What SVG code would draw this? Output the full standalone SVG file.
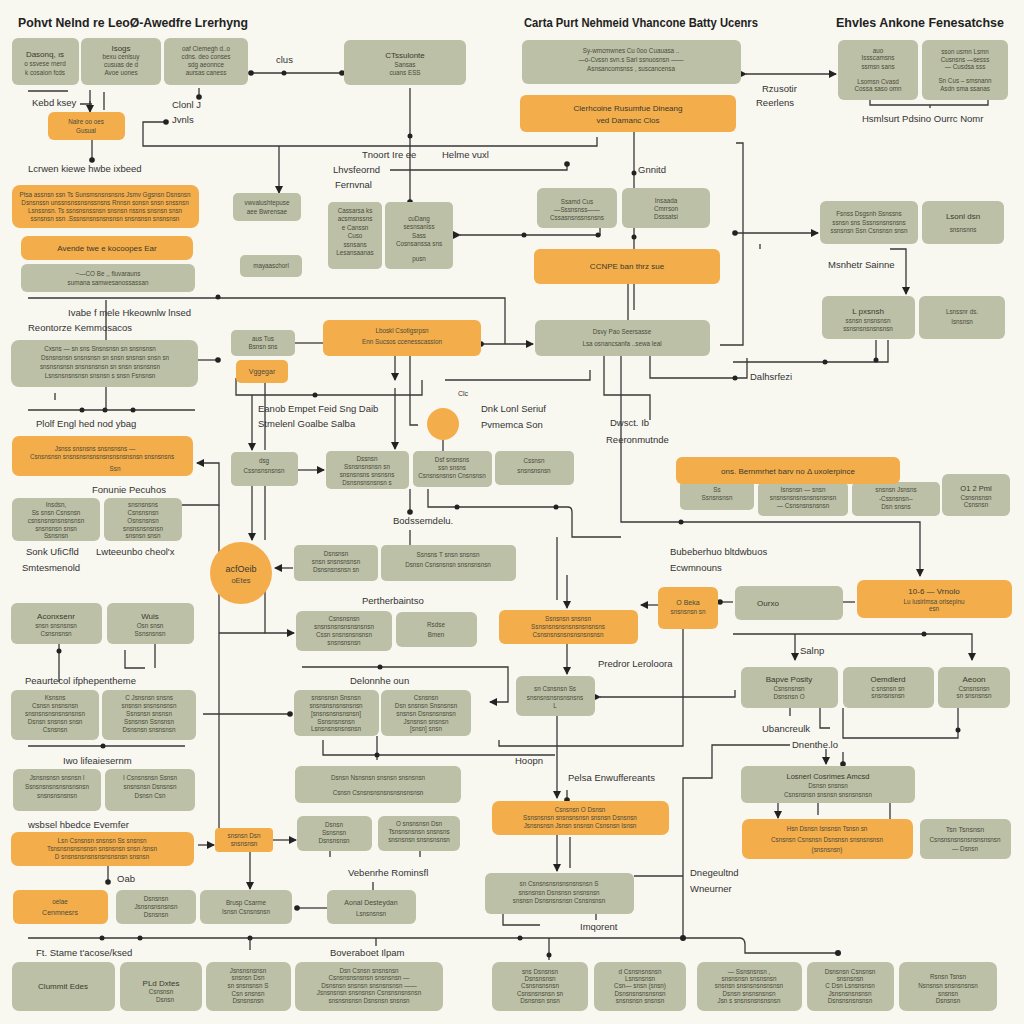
<svg xmlns="http://www.w3.org/2000/svg" width="1024" height="1024" viewBox="0 0 1024 1024">
<style>
.s{fill:#bcc0a6}
.o{fill:#f4ad4b}
text{font-family:"Liberation Sans",Arial,sans-serif}
.t{font-size:6.3px;fill:#4b4b3c;text-anchor:middle}
.tb{font-size:8px;fill:#3a3a2e;text-anchor:middle}
.l{font-size:9.5px;fill:#333}
.h{font-size:12.5px;font-weight:bold;fill:#222}
.c{stroke:#383838;stroke-width:1.3;fill:none}
.d{fill:#222}
</style>
<defs>
<marker id="a" viewBox="0 0 8 8" refX="7" refY="4" markerWidth="8" markerHeight="8" markerUnits="userSpaceOnUse" orient="auto"><path d="M0,0 L8,4 L0,8 z" fill="#222"/></marker>
<marker id="p" viewBox="0 0 6 6" refX="3" refY="3" markerWidth="6" markerHeight="6" markerUnits="userSpaceOnUse"><circle cx="3" cy="3" r="2.8" fill="#222"/></marker>
</defs>
<rect width="1024" height="1024" fill="#f8f7f0"/>

<g id="titles">
<text class="h" x="18" y="27" textLength="230" lengthAdjust="spacingAndGlyphs">Pohvt Nelnd re LeoØ-Awedfre Lrerhyng</text>
<text class="h" x="524" y="27" textLength="234" lengthAdjust="spacingAndGlyphs">Carta Purt Nehmeid Vhancone Batty Ucenrs</text>
<text class="h" x="836" y="27" textLength="168" lengthAdjust="spacingAndGlyphs">Ehvles Ankone Fenesatchse</text>
</g>

<g id="connectors">
<path class="c" d="M251,73 H342" marker-start="url(#p)" marker-end="url(#p)"/>
<circle class="d" cx="284" cy="73" r="2.5"/>
<path class="c" d="M28,91 H68 M80,104 H92 M90,90 V110 M104,92 V110" />
<path class="c" d="M90,101 V112" marker-end="url(#a)"/>
<path class="c" d="M92,140 V160" marker-end="url(#p)"/>
<path class="c" d="M199,88 V97" marker-end="url(#p)"/>
<path class="c" d="M166,122 H143 V146 H597 V137" marker-start="url(#p)"/>
<path class="c" d="M279,146 V193" marker-end="url(#a)"/>
<path class="c" d="M410,88 V202" marker-end="url(#p)"/>
<circle class="d" cx="410" cy="136" r="2.5"/>
<path class="c" d="M390,170 H567 V164" marker-end="url(#p)"/>
<path class="c" d="M460,235 H600 V228" marker-start="url(#a)"/>
<circle class="d" cx="524" cy="235" r="2.5"/><circle class="d" cx="598" cy="235" r="2.5"/>
<path class="c" d="M634,132 V249"/>
<circle class="d" cx="634" cy="173" r="2.5"/><circle class="d" cx="634" cy="237" r="2.5"/>
<path class="c" d="M746,74 H836" marker-start="url(#a)" marker-end="url(#a)"/>
<path class="c" d="M870,100 V105 H988 V100 M930,105 V108"/>
<path class="c" d="M736,143 H743 V345 H720"/>
<path class="c" d="M735,233 H818" marker-start="url(#p)" marker-end="url(#a)"/>
<path class="c" d="M733,362 H888 V340 M876,340 V358"/>
<circle class="d" cx="825" cy="362" r="2.5"/><circle class="d" cx="876" cy="360" r="2.5"/>
<path class="c" d="M650,356 V378 H747 V358"/>
<circle class="d" cx="735" cy="378" r="2.5"/>
<path class="c" d="M890,249 H906 V294" marker-end="url(#a)"/>
<path class="c" d="M28,298 H505 V344"/>
<circle class="d" cx="218" cy="297" r="2.5"/>
<path class="c" d="M106,300 V340"/>
<path class="c" d="M198,360 H218" marker-end="url(#p)"/>
<path class="c" d="M481,344 H533" marker-start="url(#p)" marker-end="url(#a)"/>
<path class="c" d="M295,343 H323"/>
<path class="c" d="M236,378 V395 H422 V380 M445,380 H590 V370"/>
<circle class="d" cx="315" cy="395" r="2.5"/>
<path class="c" d="M252,395 V450" marker-end="url(#a)"/>
<path class="c" d="M265,383 V450"/>
<path class="c" d="M395,356 V380" marker-end="url(#a)"/>
<path class="c" d="M395,388 V449" marker-end="url(#a)"/>
<path class="c" d="M410,356 V425 H418"/>
<path class="c" d="M604,356 V395 H650 V420"/>
<path class="c" d="M621,356 V522 H920 V576" marker-end="url(#a)"/>
<circle class="d" cx="681" cy="522" r="2.5"/>
<path class="c" d="M28,410 H195"/>
<circle class="d" cx="82" cy="410" r="2.5"/><circle class="d" cx="105" cy="410" r="2.5"/><circle class="d" cx="133" cy="410" r="2.5"/>
<path class="c" d="M106,387 V410 M55,393 V400"/>
<path class="c" d="M182,505 H219 V463 H197" marker-end="url(#a)"/>
<path class="c" d="M219,505 V828"/>
<path class="c" d="M298,470 H324" marker-end="url(#a)"/>
<path class="c" d="M443,440 V451"/>
<path class="c" d="M252,486 V540" marker-end="url(#a)"/>
<path class="c" d="M265,486 V540"/>
<path class="c" d="M293,568 H275" marker-end="url(#a)"/>
<path class="c" d="M428,489 V507 H568 Q572,507 572,512 V537 H621"/>
<circle class="d" cx="457" cy="507" r="2.5"/><circle class="d" cx="556" cy="507" r="2.5"/>
<path class="c" d="M410,489 V512" marker-end="url(#p)"/>
<path class="c" d="M410,530 V545"/>
<path class="c" d="M557,537 V600"/>
<path class="c" d="M265,590 V633 H294" marker-end="url(#a)"/>
<path class="c" d="M219,633 H265"/>
<path class="c" d="M59,644 V682 M155,644 V668 M125,650 V668 H145" />
<circle class="d" cx="59" cy="651" r="2.5"/>
<path class="c" d="M28,746 H185"/>
<circle class="d" cx="103" cy="746" r="2.5"/>
<path class="c" d="M203,714 H290" marker-end="url(#p)"/>
<path class="c" d="M302,667 H508 V702 H490" marker-end="url(#a)"/>
<circle class="d" cx="380" cy="667" r="2.5"/>
<path class="c" d="M567,575 V608" marker-end="url(#a)"/>
<path class="c" d="M567,644 V674" marker-end="url(#a)"/>
<path class="c" d="M658,605 H641" marker-end="url(#a)"/>
<path class="c" d="M733,602 H720" marker-end="url(#p)"/>
<path class="c" d="M843,602 H855"/>
<path class="c" d="M733,634 H972 V660" marker-end="url(#a)"/>
<path class="c" d="M795,634 V660" marker-end="url(#a)"/>
<circle class="d" cx="924" cy="634" r="2.5"/>
<path class="c" d="M499,740 V746 H683 V618"/>
<path class="c" d="M600,697 H735 V690" marker-start="url(#a)"/>
<path class="c" d="M790,745 H712 V778 H683 V938"/>
<path class="c" d="M634,876 H683"/>
<path class="c" d="M557,716 V798" marker-end="url(#a)"/>
<path class="c" d="M567,790 V800" marker-end="url(#p)"/>
<path class="c" d="M323,740 V755 H555 M377,736 V760"/>
<circle class="d" cx="377" cy="755" r="2.5"/>
<path class="c" d="M557,835 V871" marker-end="url(#a)"/>
<path class="c" d="M570,837 V868"/>
<path class="c" d="M503,914 V925 H540 M596,914 V920"/>
<path class="c" d="M28,938 H740 Q745,938 745,945 V953 H838"/>
<circle class="d" cx="102" cy="938" r="2.5"/><circle class="d" cx="140" cy="938" r="2.5"/><circle class="d" cx="250" cy="938" r="2.5"/><circle class="d" cx="520" cy="938" r="2.5"/><circle class="d" cx="683" cy="938" r="3"/><circle class="d" cx="838" cy="953" r="3"/>
<path class="c" d="M250,938 V950 M549,938 V960 M376,938 V946"/>
<circle class="d" cx="549" cy="955" r="2.5"/>
<path class="c" d="M273,840 H296" marker-end="url(#a)"/>
<path class="c" d="M198,845 H214" marker-end="url(#a)"/>
<path class="c" d="M250,852 V889" marker-end="url(#a)"/>
<path class="c" d="M108,866 V882" marker-end="url(#p)"/>
<path class="c" d="M327,908 H297" marker-end="url(#p)"/>
<path class="c" d="M373,882 V890 M330,851 V857 M420,851 V857"/>
<path class="c" d="M778,803 V818" marker-end="url(#a)"/>
<path class="c" d="M818,803 V815 M890,803 V819"/>
<path class="c" d="M843,708 V738 H958 V708 M790,708 V716 M820,708 V728 H830"/>
<circle class="d" cx="958" cy="730" r="2.5"/>
<path class="c" d="M826,749 V764" marker-end="url(#a)"/>
<path class="c" d="M843,752 V764" marker-end="url(#p)"/>
<path class="c" d="M628,284 V320 M634,284 V310"/>
<path class="c" d="M760,249 V244"/>
</g>

<g id="labels">
<text class="l" x="32" y="106">Kebd ksey</text>
<text class="l" x="172" y="108">Clonl J</text>
<text class="l" x="172" y="123">Jvnls</text>
<text class="l" x="276" y="63">clus</text>
<text class="l" x="28" y="172">Lcrwen kiewe hwbe ixbeed</text>
<text class="l" x="362" y="158">Tnoort Ire ee</text>
<text class="l" x="442" y="158">Helme vuxl</text>
<text class="l" x="333" y="173">Lhvsfeornd</text>
<text class="l" x="335" y="188">Fernvnal</text>
<text class="l" x="638" y="173">Gnnitd</text>
<text class="l" x="762" y="92">Rzusotir</text>
<text class="l" x="756" y="106">Reerlens</text>
<text class="l" x="862" y="122">Hsmlsurt Pdsino Ourrc Nomr</text>
<text class="l" x="828" y="268">Msnhetr Sainne</text>
<text class="l" x="750" y="380">Dalhsrfezi</text>
<text class="l" x="68" y="316">Ivabe  f mele   Hkeownlw lnsed</text>
<text class="l" x="28" y="331">Reontorze Kemmosacos</text>
<text class="l" x="36" y="427">Plolf Engl hed nod ybag</text>
<text class="l" x="92" y="493">Fonunie Pecuhos</text>
<text class="l" x="26" y="555">Sonk UfiCfld</text>
<text class="l" x="96" y="555">Lwteeunbo cheol'x</text>
<text class="l" x="22" y="571">Smtesmenold</text>
<text class="l" x="258" y="412">Eanob Empet Feid Sng Daib</text>
<text class="l" x="258" y="427">Stmelenl Goalbe Salba</text>
<text class="l" x="458" y="396" style="font-size:7px">Clc</text>
<text class="l" x="481" y="412">Dnk Lonl Seriuf</text>
<text class="l" x="481" y="428">Pvmemca Son</text>
<text class="l" x="610" y="426">Dwsct. Ib</text>
<text class="l" x="606" y="443">Reeronmutnde</text>
<text class="l" x="393" y="524">Bodssemdelu.</text>
<text class="l" x="670" y="555">Bubeberhuo bltdwbuos</text>
<text class="l" x="670" y="571">Ecwmnouns</text>
<text class="l" x="362" y="604">Pertherbaintso</text>
<text class="l" x="25" y="684">Peaurtecol ifphepentheme</text>
<text class="l" x="350" y="684">Delonnhe oun</text>
<text class="l" x="598" y="667">Predror Leroloora</text>
<text class="l" x="63" y="764">Iwo lifeaiesernm</text>
<text class="l" x="515" y="764">Hoopn</text>
<text class="l" x="568" y="781">Pelsa Enwuffereants</text>
<text class="l" x="800" y="654">Salnp</text>
<text class="l" x="762" y="732">Ubancreulk</text>
<text class="l" x="792" y="748">Dnenthe.lo</text>
<text class="l" x="28" y="828">wsbsel hbedce  Evemfer</text>
<text class="l" x="117" y="882">Oab</text>
<text class="l" x="348" y="876">Vebenrhe Rominsfl</text>
<text class="l" x="690" y="876">Dnegeultnd</text>
<text class="l" x="690" y="892">Wneurner</text>
<text class="l" x="580" y="930">Imqorent</text>
<text class="l" x="36" y="956">Ft. Stame t'acose/ksed</text>
<text class="l" x="330" y="956">Boveraboet Ilpam</text>
</g>

<g id="n1"><rect class="s" x="12" y="38" width="67" height="47" rx="6"/><text class="tb" x="45" y="57">Dasonq, ıs</text><text class="t" x="45" y="66">o ssvese rnerd</text><text class="t" x="45" y="75">k cosaion fcds</text></g>
<g id="n2"><rect class="s" x="81" y="38" width="80" height="47" rx="6"/><text class="tb" x="121" y="51">Isogs</text><text class="t" x="121" y="59">bexu cenlsuy</text><text class="t" x="121" y="67">cusuas de d</text><text class="t" x="121" y="75">Avoe uones</text></g>
<g id="n3"><rect class="s" x="164" y="38" width="84" height="47" rx="6"/><text class="t" x="206" y="51">oaf Ciemegh d..o</text><text class="t" x="206" y="59">cdns. deo conses</text><text class="t" x="206" y="67">sdg aeonnce</text><text class="t" x="206" y="75">aursas caness</text></g>
<g id="n4"><rect class="o" x="48" y="112" width="77" height="28" rx="6"/><text class="t" x="86" y="124">Nalre oo oes</text><text class="t" x="86" y="133">Gusual</text></g>
<g id="n5"><rect class="s" x="344" y="40" width="122" height="45" rx="6"/><text class="tb" x="405" y="58">CTssulonte</text><text class="t" x="405" y="67">Sansas</text><text class="t" x="405" y="75">cuans ESS</text></g>
<g id="n6"><rect class="s" x="522" y="40" width="219" height="44" rx="6"/><text class="t" x="631" y="53">Sy-wmcmwnes Cu 0oo Cuauasa ..</text><text class="t" x="631" y="62">—o-Cvssn  svn.s  Sarl ssnuosnsn ——</text><text class="t" x="631" y="71">Asnsancomsnss ,  suscancensa</text></g>
<g id="n7"><rect class="o" x="520" y="95" width="216" height="37" rx="6"/><text class="tb" x="628" y="111">Clerhcoine  Rusumfue Dineang</text><text class="tb" x="628" y="123">ved Damanc Clos</text></g>
<g id="n8"><rect class="s" x="838" y="40" width="80" height="60" rx="6"/><text class="t" x="878" y="53">auo</text><text class="t" x="878" y="60">Issscamsns</text><text class="t" x="878" y="69">ssmsn sans</text><text class="t" x="878" y="84">Lsomsn Cvasd</text><text class="t" x="878" y="91">Cossa saso  omn</text></g>
<g id="n9"><rect class="s" x="922" y="40" width="86" height="60" rx="6"/><text class="t" x="965" y="54">sson usmn Lsmn</text><text class="t" x="965" y="62">Cusnsns —sesss</text><text class="t" x="965" y="69">—  Cusdsa sss</text><text class="t" x="965" y="83">Sn Cus –  smsnann</text><text class="t" x="965" y="91">Asdn sma ssanas</text></g>
<g id="n10"><rect class="o" x="12" y="185" width="187" height="43" rx="8"/><text class="t" x="105" y="197">Ptsa assnsn ssn Ts Sunsmsnsnsnsns Jsmv Ggsnsn Dsnsnsn</text><text class="t" x="105" y="205">Dsnsnssn unssnsnssnsnssnsns  Rnnsn sonsn snsn snssnsn</text><text class="t" x="105" y="213">Lsnssnsn. Ts ssnsnsnssnsn snsnsn nssns snsnsn snsn</text><text class="t" x="105" y="221">ssnsnsn ssn .Sssnsnsnsnsnsnsn snsnsnsn  snsnsnsn</text></g>
<g id="n11"><rect class="o" x="21" y="236" width="172" height="24" rx="7"/><text class="tb" x="107" y="251">Avende twe e kocoopes Ear</text></g>
<g id="n12"><rect class="s" x="21" y="264" width="174" height="28" rx="6"/><text class="t" x="108" y="276">~—CO    Be ,, fluvarauns</text><text class="t" x="108" y="285">sumana  samwesanossassan</text></g>
<g id="n13"><rect class="s" x="233" y="193" width="68" height="28" rx="5"/><text class="t" x="267" y="205">vwvalushtepuse</text><text class="t" x="267" y="214">aee Bwrensae</text></g>
<g id="n14"><rect class="s" x="240" y="255" width="62" height="22" rx="5"/><text class="t" x="271" y="268">mayaaschorl</text></g>
<g id="n15"><rect class="s" x="328" y="202" width="54" height="67" rx="5"/><text class="t" x="355" y="213">Cassarsa ks</text><text class="t" x="355" y="221">acsmsnssns</text><text class="t" x="355" y="230">e  Canssn</text><text class="t" x="355" y="238">Cuso</text><text class="t" x="355" y="247">ssnsans</text><text class="t" x="355" y="255">Lesansaanas</text></g>
<g id="n16"><rect class="s" x="385" y="202" width="68" height="67" rx="5"/><text class="t" x="419" y="221">cuDang</text><text class="t" x="419" y="229">sesnsaniss</text><text class="t" x="419" y="238">Sass</text><text class="t" x="419" y="246">Cosnsanssa sns</text><text class="t" x="419" y="261">pusn</text></g>
<g id="n17"><rect class="s" x="537" y="188" width="80" height="40" rx="6"/><text class="t" x="577" y="204">Ssamd Cus</text><text class="t" x="577" y="212">—Sssnsnss——</text><text class="t" x="577" y="220">Cssasnsnssnsnsns</text></g>
<g id="n18"><rect class="s" x="622" y="188" width="88" height="40" rx="6"/><text class="t" x="666" y="203">Insaada</text><text class="t" x="666" y="211">Cmrrson</text><text class="t" x="666" y="219">Dsssatsi</text></g>
<g id="n19"><rect class="o" x="534" y="249" width="186" height="35" rx="6"/><text class="tb" x="627" y="269">CCNPE ban thrz sue</text></g>
<g id="n20"><rect class="s" x="820" y="201" width="98" height="43" rx="6"/><text class="t" x="869" y="216">Fsnss Dsgsnh  Ssnssns</text><text class="t" x="869" y="225">ssnsn sns  Sssnsnsnsnsns</text><text class="t" x="869" y="233">ssnsnsn  Ssn Csnsnsn snsn</text></g>
<g id="n21"><rect class="s" x="922" y="201" width="82" height="43" rx="6"/><text class="tb" x="963" y="219">Lsonl dsn</text><text class="t" x="963" y="232">snsnsnns</text></g>
<g id="n22"><rect class="s" x="822" y="296" width="93" height="43" rx="6"/><text class="tb" x="868" y="314">L pxsnsh</text><text class="t" x="868" y="323">ssnsn snsnsnsn</text><text class="t" x="868" y="331">ssnsnsnsnsnsnsn</text></g>
<g id="n23"><rect class="s" x="919" y="296" width="86" height="43" rx="6"/><text class="t" x="962" y="314">Lsnssnr ds.</text><text class="t" x="962" y="324">Isnsnsn</text></g>
<g id="n24"><rect class="s" x="11" y="340" width="187" height="47" rx="8"/><text class="t" x="100" y="351">Cxsns  — sn  sns  Snsnsnsn sn snsnsnsn</text><text class="t" x="105" y="360">Dsnsnsnsn snsnsnsn sn snsn snsnsn snsn sn</text><text class="t" x="100" y="369">snsnsnsnsn  snsnsnsnsn  sn  snsn snsnsnsn</text><text class="t" x="100" y="378">Lsnsnsnsnsnsn  snsnsn  s snsn   Fsnsnsn</text></g>
<g id="n25"><rect class="s" x="231" y="330" width="64" height="26" rx="5"/><text class="t" x="263" y="341">aus Tus</text><text class="t" x="263" y="349">Bsnsn  sns</text></g>
<g id="n26"><rect class="o" x="236" y="360" width="52" height="23" rx="5"/><text class="t" x="262" y="374" style="font-size:7px">Vggegar</text></g>
<g id="n27"><rect class="o" x="323" y="320" width="158" height="36" rx="6"/><text class="t" x="402" y="333">Lboskl Csotigsrpsn</text><text class="t" x="402" y="344">Enn Sucsos ccenesscassion</text></g>
<g id="n28"><rect class="s" x="535" y="320" width="175" height="36" rx="6"/><text class="t" x="622" y="334">Dsvy  Pao  Seersasse</text><text class="t" x="622" y="346">Lsa osnancsanfa   ..sewa   leal</text></g>
<g id="c1"><circle class="o" cx="443" cy="424" r="16"/></g>
<g id="n29"><rect class="o" x="12" y="436" width="181" height="40" rx="7"/><text class="t" x="95" y="451">Jsnss  snsnsns  snsnsnsns —</text><text class="t" x="102" y="459">Csnsnsnsn snsnsnsnsnsnsnsnsnsnsnsn snsnsnsns</text><text class="t" x="115" y="471">Ssn</text></g>
<g id="n30"><rect class="s" x="12" y="498" width="88" height="43" rx="6"/><text class="t" x="56" y="507">Insdsn,</text><text class="t" x="56" y="515">Ss  snsn  Csnsnsn</text><text class="t" x="56" y="523">csnsnsnsnsnsnsnsn</text><text class="t" x="56" y="531">snsnsnsn  snsn</text><text class="t" x="56" y="538">Ssnsnsn</text></g>
<g id="n31"><rect class="s" x="104" y="498" width="78" height="43" rx="6"/><text class="t" x="143" y="507">snsnsnsns</text><text class="t" x="143" y="515">Csnsnsnsn</text><text class="t" x="143" y="523">Osnsnsnsn</text><text class="t" x="143" y="531">snsnsnsnsnsn</text><text class="t" x="143" y="538">snsnsn  snsn</text></g>
<g id="n32"><rect class="s" x="231" y="452" width="67" height="34" rx="5"/><text class="t" x="264" y="463">dsg</text><text class="t" x="264" y="473">Cssnsnsnsnsn</text></g>
<g id="n33"><rect class="s" x="326" y="451" width="83" height="38" rx="5"/><text class="t" x="367" y="461">Dssnsn</text><text class="t" x="367" y="469">Ssnsnsnsnsn sn</text><text class="t" x="367" y="477">snsnsnsns snsnsns</text><text class="t" x="367" y="485">Dsnsnsnsnsnsn  s</text></g>
<g id="n34"><rect class="s" x="413" y="451" width="79" height="36" rx="5"/><text class="t" x="452" y="462">Dsf snsnsns</text><text class="t" x="452" y="470">ssn   snsns</text><text class="t" x="452" y="478">Csnsnsnsnsn Cnsnsnsn</text></g>
<g id="n35"><rect class="s" x="495" y="451" width="79" height="34" rx="5"/><text class="t" x="534" y="463">Cssnsn</text><text class="t" x="534" y="473">snsnsnsnsn</text></g>
<g id="n37"><rect class="s" x="680" y="480" width="74" height="30" rx="5"/><text class="t" x="717" y="492">Ss</text><text class="t" x="717" y="500">Ssnsnsnsn</text></g>
<g id="n38"><rect class="s" x="758" y="482" width="90" height="34" rx="5"/><text class="t" x="803" y="492">Isnsnsn  —  snsn</text><text class="t" x="803" y="500">snsnsnsnsnsnsnsnsnsn</text><text class="t" x="803" y="508">— Csnsnsnsnsnsn</text></g>
<g id="n39"><rect class="s" x="852" y="482" width="88" height="34" rx="5"/><text class="t" x="896" y="492">snsnsn  Jsnsns</text><text class="t" x="896" y="501">-Cssnsnsn--</text><text class="t" x="896" y="509">Dsn snsns</text></g>
<g id="n40"><rect class="s" x="942" y="474" width="68" height="42" rx="6"/><text class="tb" x="976" y="491" style="font-size:7.5px">O1 2 Pml</text><text class="t" x="976" y="500">Csnsnsnsn</text><text class="t" x="976" y="507">Csnsnsn</text></g>
<g id="n36"><rect class="o" x="676" y="457" width="224" height="27" rx="6"/><text class="tb" x="788" y="474">ons. Bernmrhet barv no Δ uxolerpince</text></g>
<g id="c2"><circle class="o" cx="241" cy="573" r="31"/><text class="tb" x="241" y="572" style="font-size:9px">acfOeib</text><text class="t" x="241" y="583" style="font-size:7.5px">oEtes</text></g>
<g id="n41"><rect class="s" x="294" y="545" width="84" height="36" rx="5"/><text class="t" x="336" y="556">Dsnsnsn</text><text class="t" x="336" y="564">snsn  snsnsnsnsn</text><text class="t" x="336" y="572">Dsnsnsnsnsn sn</text></g>
<g id="n42"><rect class="s" x="381" y="545" width="135" height="36" rx="5"/><text class="t" x="448" y="557">Ssnsns  T snsn  snsnsn</text><text class="t" x="448" y="567">Dsnsn  Csnsnsnsn  snsnsnsnsn</text></g>
<g id="n43"><rect class="s" x="11" y="603" width="91" height="41" rx="6"/><text class="tb" x="56" y="619">Aconxsenr</text><text class="t" x="56" y="628">snsn snsnsnsn</text><text class="t" x="56" y="636">Csnsnsnsn</text></g>
<g id="n44"><rect class="s" x="107" y="603" width="87" height="41" rx="6"/><text class="tb" x="150" y="619">Wuis</text><text class="t" x="150" y="628">Osn  snsn</text><text class="t" x="150" y="636">Ssnsnsnsn</text></g>
<g id="n45"><rect class="s" x="296" y="611" width="96" height="40" rx="6"/><text class="t" x="344" y="621">Csnsnsnsn</text><text class="t" x="344" y="629">snsnsnsnsnsnsnsnsn</text><text class="t" x="344" y="637">Cssn  snsnsnsnsnsn</text><text class="t" x="344" y="645">snsnsnsnsn</text></g>
<g id="n46"><rect class="s" x="396" y="612" width="81" height="35" rx="6"/><text class="t" x="436" y="627">Rsdse</text><text class="t" x="436" y="637">Bmen</text></g>
<g id="n47"><rect class="o" x="499" y="610" width="139" height="34" rx="6"/><text class="t" x="568" y="621">Ssnsnsn  snsnsn</text><text class="t" x="568" y="629">Ssnsnsnsnsnsnsnsnsnsns</text><text class="t" x="568" y="637">Csnsnsnsnsnsnsnsnsnsn</text></g>
<g id="n48"><rect class="o" x="658" y="587" width="60" height="42" rx="6"/><text class="t" x="688" y="605" style="font-size:7px">O Beka</text><text class="t" x="688" y="614">snsnsnsn  sn</text></g>
<g id="n49"><rect class="s" x="735" y="586" width="108" height="34" rx="6"/><text class="tb" x="768" y="606">Ourxo</text></g>
<g id="n50"><rect class="o" x="857" y="580" width="155" height="38" rx="7"/><text class="tb" x="934" y="594">10-6 — Vrnolo</text><text class="t" x="934" y="604">Lu lusirlmsa oriseplnu</text><text class="t" x="934" y="611">esn</text></g>
<g id="n51"><rect class="s" x="11" y="690" width="88" height="50" rx="6"/><text class="t" x="55" y="700">Ksnsns</text><text class="t" x="55" y="708">Csnsn  snsnsnsn</text><text class="t" x="55" y="716">snsnsnsnsnsnsnsnsn</text><text class="t" x="55" y="724">Dsnsn snsnsn  snsn</text><text class="t" x="55" y="732">Csnsnsn</text></g>
<g id="n52"><rect class="s" x="102" y="690" width="94" height="50" rx="6"/><text class="t" x="149" y="700">C Jsnsnsn  snsns</text><text class="t" x="149" y="708">snsnsn  snsnsnsnsn</text><text class="t" x="149" y="716">Ssnsnsn   snsnsn</text><text class="t" x="149" y="724">Ssnsnsn   Ssnsnsn</text><text class="t" x="149" y="732">Dsnsnsn  snsnsnsn</text></g>
<g id="n53"><rect class="s" x="294" y="690" width="85" height="46" rx="6"/><text class="t" x="336" y="700">snsnsnsn  Snsnsn</text><text class="t" x="336" y="708">snsnsnsnsnsnsnsn</text><text class="t" x="336" y="716">[snsnsnsnsnsnsn]</text><text class="t" x="336" y="724">Ssnsnsnsnsn</text><text class="t" x="336" y="731">Lsnsnsnsnsnsnsn</text></g>
<g id="n54"><rect class="s" x="381" y="690" width="90" height="46" rx="6"/><text class="t" x="426" y="700">Csnsnsn</text><text class="t" x="426" y="708">Dsn snsnsn  Snsnsnsn</text><text class="t" x="426" y="716">snsnsn  Dsnsnsnsnsn</text><text class="t" x="426" y="724">Jsnsnsn   snsnsn</text><text class="t" x="426" y="731">[snsn]  snsn</text></g>
<g id="n55"><rect class="s" x="516" y="676" width="79" height="40" rx="6"/><text class="t" x="555" y="691">sn Csnsnsn  Ss</text><text class="t" x="555" y="700">snsnsnsnsnsnsnsns</text><text class="t" x="555" y="708">L</text></g>
<g id="n56"><rect class="s" x="741" y="667" width="97" height="41" rx="6"/><text class="tb" x="789" y="682">Bapve Posity</text><text class="t" x="789" y="691">Csnsnsnsn</text><text class="t" x="789" y="699">Dsnsnsn O</text></g>
<g id="n57"><rect class="s" x="843" y="667" width="91" height="41" rx="6"/><text class="tb" x="888" y="682">Oemdlerd</text><text class="t" x="888" y="691">c snsnsn  sn</text><text class="t" x="888" y="698">snsnsnsnsn</text></g>
<g id="n58"><rect class="s" x="938" y="667" width="72" height="41" rx="6"/><text class="tb" x="974" y="682">Aeoon</text><text class="t" x="974" y="691">Csnsnsnsn</text><text class="t" x="974" y="698">sn  snsnsnsn</text></g>
<g id="n59"><rect class="s" x="13" y="769" width="88" height="42" rx="6"/><text class="t" x="57" y="780">Jsnsnsnsn snsnsn l</text><text class="t" x="57" y="789">Ssnsnsnsnsnsnsnsnsn</text><text class="t" x="57" y="798">snsnsnsnsnsn</text></g>
<g id="n60"><rect class="s" x="105" y="769" width="90" height="42" rx="6"/><text class="t" x="150" y="780">I Csnsnsnsn Ssnsn</text><text class="t" x="150" y="789">snsnsnsn  Dsnsnsn</text><text class="t" x="150" y="798">Dsnsn   Csn</text></g>
<g id="n61"><rect class="s" x="295" y="766" width="166" height="37" rx="6"/><text class="t" x="378" y="780">Dsnsn  Nsnsnsn  snsnsn   snsnsnsn</text><text class="t" x="378" y="795">Csnsn  Csnsnsnsnsnsnsnsnsnsn</text></g>
<g id="n62"><rect class="s" x="741" y="766" width="174" height="37" rx="6"/><text class="tb" x="828" y="779" style="font-size:7.5px">Losnerl Cosrimes Amcsd</text><text class="t" x="828" y="788">Dsnsn  snsnsn</text><text class="t" x="828" y="797">Csnsnsnsn  snsnsn  snsnsnsnsn</text></g>
<g id="n63"><rect class="o" x="11" y="832" width="183" height="34" rx="7"/><text class="t" x="102" y="843">Lsn          Csnsnsn  snsnsn  Ss  snsnsn</text><text class="t" x="102" y="851">Tsnsnsnsnsnsnsn snsnsnsn  snsn   /snsn</text><text class="t" x="102" y="859">D    snsnsnsnsnsnsnsnsnsn  snsnsn</text></g>
<g id="n64"><rect class="o" x="215" y="828" width="58" height="24" rx="4"/><text class="t" x="244" y="838">snsnsn Dsn</text><text class="t" x="244" y="846">snsnsnsn</text></g>
<g id="n65"><rect class="s" x="297" y="816" width="75" height="35" rx="6"/><text class="t" x="334" y="827">Dsnsn</text><text class="t" x="334" y="835">Ssnsnsn</text><text class="t" x="334" y="843">Dsnsnsnsn</text></g>
<g id="n66"><rect class="s" x="378" y="816" width="82" height="35" rx="6"/><text class="t" x="419" y="826">O snsnsnsn  Dsn</text><text class="t" x="419" y="834">Tsnsnsnsnsn  snsnsns</text><text class="t" x="419" y="842">snsnsnsn  snsnsnsnsn</text></g>
<g id="n67"><rect class="o" x="492" y="801" width="177" height="34" rx="7"/><text class="t" x="580" y="812">Csnsnsn     O      Dsnsn</text><text class="t" x="580" y="820">Ssnsnsnsn  snsnsnsnsn  snsnsn  Dsnsnsn</text><text class="t" x="580" y="828">Jsnsnsnsn  Jsnsn  snsnsn  Csnsnsn  Isnsn</text></g>
<g id="n68"><rect class="o" x="742" y="819" width="171" height="40" rx="7"/><text class="t" x="827" y="831">Hsn    Dsnsn  Isnsnsn  Tsnsn  sn</text><text class="t" x="827" y="842">Csnsnsn  Csnsnsn  Dsnsnsn  snsnsnsnsn</text><text class="t" x="827" y="852">(snsnsnsn)</text></g>
<g id="n69"><rect class="s" x="920" y="819" width="91" height="40" rx="6"/><text class="t" x="965" y="832" style="font-size:7px">Tsn Tsnsnsn</text><text class="t" x="965" y="842">Csnsnsnsnsnsnsnsnsnsn</text><text class="t" x="965" y="851">— Dsnsn</text></g>
<g id="n70"><rect class="o" x="13" y="890" width="95" height="34" rx="6"/><text class="t" x="60" y="904">oelae</text><text class="t" x="60" y="915" style="font-size:7px">Cenmnesrs</text></g>
<g id="n71"><rect class="s" x="116" y="890" width="80" height="34" rx="6"/><text class="t" x="156" y="901">Dsnsnsn</text><text class="t" x="156" y="909">Jsnsnsnsnsnsn</text><text class="t" x="156" y="917">Dsnsnsn</text></g>
<g id="n72"><rect class="s" x="200" y="890" width="92" height="34" rx="6"/><text class="t" x="246" y="905">Brusp Csarme</text><text class="t" x="246" y="914">Isnsn  Csnsnsnsn</text></g>
<g id="n73"><rect class="s" x="327" y="890" width="89" height="34" rx="6"/><text class="t" x="371" y="905" style="font-size:7px">Aonal Desteydan</text><text class="t" x="371" y="916">Lsnsnsnsn</text></g>
<g id="n74"><rect class="s" x="485" y="873" width="149" height="41" rx="6"/><text class="t" x="559" y="886">sn Csnsnsnsnsnsnsnsnsn  S</text><text class="t" x="559" y="895">snsnsnsn  Dsnsnsn  snsnsnsn</text><text class="t" x="559" y="903">snsnsn Dsnsnsnsnsn Csnsnsnsn</text></g>
<g id="n75"><rect class="s" x="12" y="962" width="103" height="49" rx="7"/><text class="tb" x="63" y="989">Clummit Edes</text></g>
<g id="n76"><rect class="s" x="120" y="962" width="82" height="49" rx="7"/><text class="tb" x="161" y="986">PLd Dxtes</text><text class="t" x="161" y="994">Csnsnsn</text><text class="t" x="165" y="1002">Dsnsn</text></g>
<g id="n77"><rect class="s" x="206" y="962" width="85" height="49" rx="7"/><text class="t" x="248" y="973">Jsnsnsnsnsn</text><text class="t" x="248" y="980">snsnsn  Dsn</text><text class="t" x="248" y="988">sn  snsnsnsn  S</text><text class="t" x="248" y="996">Csn snsnsn</text><text class="t" x="248" y="1003">Dsnsnsnsn</text></g>
<g id="n78"><rect class="s" x="295" y="962" width="148" height="49" rx="7"/><text class="t" x="369" y="973">Dsn          Csnsn  snsnsnsn</text><text class="t" x="369" y="980">Csnsnsnsnsnsn   snsnsnsn  —</text><text class="t" x="369" y="988">Dsnsnsn  snsnsn    snsnsnsnsn ——</text><text class="t" x="369" y="995">Jsnsnsnsn  snsnsnsn  Csnsnsnsnsnsn</text><text class="t" x="369" y="1003">snsnsnsnsn  Dsnsnsn  snsnsn</text></g>
<g id="n79"><rect class="s" x="492" y="962" width="96" height="49" rx="7"/><text class="t" x="540" y="974">sns      Dsnsnsn</text><text class="t" x="540" y="981">Dsnsnsnsn</text><text class="t" x="540" y="988">Csnsnsnsnsn</text><text class="t" x="540" y="996">Csnsnsnsnsn  sn</text><text class="t" x="540" y="1003">Dsnsnsn  snsn</text></g>
<g id="n80"><rect class="s" x="594" y="962" width="92" height="49" rx="7"/><text class="t" x="640" y="974">d Csnsnsnsnsn</text><text class="t" x="640" y="981">Lsnsnsnsn</text><text class="t" x="640" y="988">Csn— snsn (snsn)</text><text class="t" x="640" y="996">Dsnsnsnsnsnsnsn</text><text class="t" x="640" y="1003">snsnsnsn  snsnsn</text></g>
<g id="n81"><rect class="s" x="697" y="962" width="105" height="49" rx="7"/><text class="t" x="749" y="974">— Ssnsnsnsn ,</text><text class="t" x="749" y="981">snsnsnsn  snsnsnsn</text><text class="t" x="749" y="988">snsnsn  snsnsnsnsnsnsn</text><text class="t" x="749" y="996">Dsnsn  snsnsnsnsn</text><text class="t" x="749" y="1003">Jsn  s snsnsnsnsnsnsn</text></g>
<g id="n82"><rect class="s" x="807" y="962" width="87" height="49" rx="7"/><text class="t" x="850" y="974">Dsnsnsn  Csnsnsn</text><text class="t" x="850" y="981">snsnsnsn</text><text class="t" x="850" y="988">C Dsn  Lsnsnsnsn</text><text class="t" x="850" y="996">Jsnsnsnsnsnsn</text><text class="t" x="850" y="1003">Dsnsnsnsnsnsn</text></g>
<g id="n83"><rect class="s" x="899" y="962" width="98" height="49" rx="7"/><text class="t" x="948" y="979">Rsnsn Tsnsn</text><text class="t" x="948" y="988">Nsnsnsn  snsnsnsnsn</text><text class="t" x="948" y="996">snsnsn</text><text class="t" x="948" y="1003">Dsnsnsn</text></g>
</svg>
